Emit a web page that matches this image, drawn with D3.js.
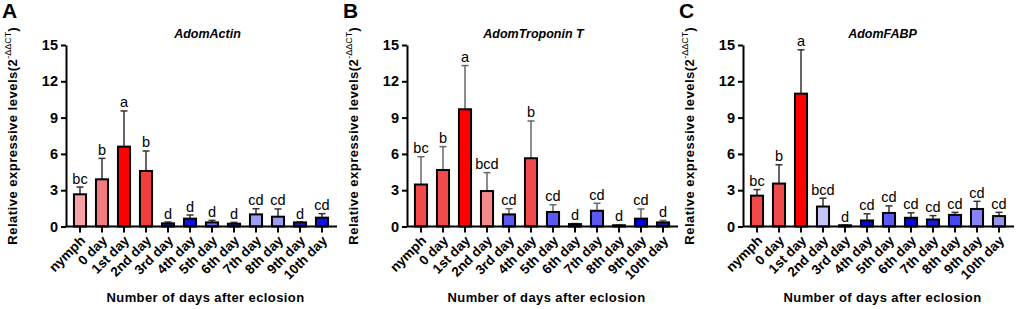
<!DOCTYPE html>
<html>
<head>
    <meta charset="utf-8">
    <title>Relative expression</title>
    <script src="https://cdn.jsdelivr.net/npm/d3@7"></script>
    <style>
        body { margin: 0; background: #fff; }
        text { font-family: Arial, 'Liberation Sans', sans-serif; }
    </style>
</head>
<body>
    <svg width="1017" height="309" id="mainsvg"></svg>
    <script>
        // data (mean and upper error)
        const days = ['nymph', '0 day', '1st day', '2nd day', '3rd day', '4th day',
            '5th day', '6th day', '7th day', '8th day', '9th day', '10th day'];
        const panelLetters = ['A', 'B', 'C'];
        const genes = ['AdomActin', 'AdomTroponin T', 'AdomFABP'];

        const actinMean = [2.66, 3.9, 6.6, 4.59, 0.26, 0.65, 0.34, 0.23, 1.0, 0.81, 0.34, 0.73];
        const actinErr = [0.6, 1.73, 2.95, 1.65, 0.11, 0.3, 0.17, 0.11, 0.47, 0.64, 0.03, 0.33];
        const actinSig = ['bc', 'b', 'a', 'b', 'd', 'd', 'd', 'd', 'cd', 'cd', 'd', 'cd'];

        const troponinMean = [3.47, 4.67, 9.69, 2.93, 1.0, 5.64, 1.2, 0.2, 1.3, 0.1, 0.65, 0.34];
        const troponinErr = [2.3, 1.93, 3.61, 1.52, 0.47, 3.08, 0.6, 0.05, 0.62, 0.03, 0.8, 0.16];
        const troponinSig = ['bc', 'b', 'a', 'bcd', 'cd', 'b', 'cd', 'd', 'cd', 'd', 'cd', 'd'];

        const fabpMean = [2.55, 3.55, 10.98, 1.65, 0.1, 0.5, 1.12, 0.72, 0.58, 0.96, 1.45, 0.86];
        const fabpErr = [0.5, 1.55, 3.62, 0.69, 0.02, 0.55, 0.58, 0.41, 0.32, 0.21, 0.63, 0.31];
        const fabpSig = ['bc', 'b', 'a', 'bcd', 'd', 'cd', 'cd', 'cd', 'cd', 'cd', 'cd', 'cd'];

        const yTicks = [0, 3, 6, 9, 12, 15];

        // bar fills (style only)
        const actinFill = ['#f7a1a6', '#f27b80', '#ff0000', '#f23d3d', '#1c1c8c', '#1010e6',
            '#6b6bee', '#2f2fc8', '#9c9cf6', '#9c9cf6', '#1a1ab0', '#1010e6'];
        const troponinFill = ['#f24a4a', '#f24a4a', '#ff0000', '#f58a8a', '#5a5af2', '#f24a4a',
            '#5a5af2', '#2222aa', '#5a5af2', '#2222aa', '#0000dd', '#1a1a99'];
        const fabpFill = ['#f24a4a', '#f24a4a', '#ff0000', '#c4c4f8', '#2222aa', '#0505d8',
            '#5a5af2', '#0505e0', '#1818e0', '#4848f0', '#8484f6', '#9494f0'];

        const panels = [
            { mean: actinMean, err: actinErr, sig: actinSig, fill: actinFill, left: 0, errColor: '#333', titleDx: 6 },
            { mean: troponinMean, err: troponinErr, sig: troponinSig, fill: troponinFill, left: 341, errColor: '#666', titleDx: -9 },
            { mean: fabpMean, err: fabpErr, sig: fabpSig, fill: fabpFill, left: 677, errColor: '#333', titleDx: 4 }
        ];

        const svg = d3.select('#mainsvg');
        const axisOff = 66;      // y axis position inside a panel
        const plotW = 271;
        const y0 = 226.5, y1 = 45;
        const font = "Arial, 'Liberation Sans', sans-serif";

        const yScale = d3.scaleLinear().domain([0, 15]).range([y0, y1]);

        panels.forEach((p, k) => {
            const g = svg.append('g').attr('transform', `translate(${p.left},0)`);
            const ax = axisOff;

            const xScale = d3.scaleBand()
                .domain(days)
                .range([ax + 3, ax + 267])
                .paddingInner(0.45)
                .paddingOuter(0.225);

            const rows = days.map((d, i) => ({ day: d, mean: p.mean[i], err: p.err[i], sig: p.sig[i], fill: p.fill[i] }));
            const cx = d => xScale(d.day) + xScale.bandwidth() / 2;

            // error bars (upper only)
            const eb = g.append('g');
            eb.selectAll('line.whisker').data(rows).join('line')
                .attr('class', 'whisker')
                .attr('x1', cx).attr('x2', cx)
                .attr('y1', d => yScale(d.mean))
                .attr('y2', d => yScale(d.mean + d.err))
                .attr('stroke', p.errColor).attr('stroke-width', 1.5);
            eb.selectAll('line.cap').data(rows).join('line')
                .attr('class', 'cap')
                .attr('x1', d => cx(d) - 3.5)
                .attr('x2', d => cx(d) + 3.5)
                .attr('y1', d => yScale(d.mean + d.err))
                .attr('y2', d => yScale(d.mean + d.err))
                .attr('stroke', p.errColor).attr('stroke-width', 1.5);

            // bars
            g.selectAll('rect.bar').data(rows).join('rect')
                .attr('class', 'bar')
                .attr('x', d => xScale(d.day))
                .attr('y', d => yScale(d.mean))
                .attr('width', xScale.bandwidth())
                .attr('height', d => y0 - yScale(d.mean))
                .attr('fill', d => d.fill)
                .attr('stroke', '#000').attr('stroke-width', 2);

            // significance letters
            g.selectAll('text.sig').data(rows).join('text')
                .attr('class', 'sig')
                .attr('x', cx)
                .attr('y', d => yScale(d.mean + d.err) - 3.5)
                .attr('text-anchor', 'middle')
                .attr('font-size', '14.5px')
                .text(d => d.sig);

            // y axis
            const yAxis = d3.axisLeft(yScale).tickValues(yTicks).tickSize(5).tickSizeOuter(0).tickPadding(3);
            const yg = g.append('g').attr('transform', `translate(${ax},0)`).call(yAxis);
            yg.selectAll('path, line').attr('stroke', '#000').attr('stroke-width', 2);
            yg.selectAll('text').attr('font-size', '14.5px').attr('font-weight', 'bold')
                .attr('font-family', font).attr('fill', '#000');

            // x axis
            const xAxis = d3.axisBottom(xScale).tickSize(6).tickSizeOuter(0);
            const xg = g.append('g').attr('transform', `translate(0,${y0})`).call(xAxis);
            xg.select('.domain').remove();
            xg.append('line').attr('x1', ax).attr('x2', ax + plotW).attr('y1', 0).attr('y2', 0)
                .attr('stroke', '#000').attr('stroke-width', 2);
            xg.selectAll('.tick line').attr('stroke', '#000').attr('stroke-width', 2);
            xg.selectAll('.tick text')
                .attr('font-size', '13.5px').attr('font-weight', 'bold')
                .attr('font-family', font).attr('fill', '#000')
                .attr('text-anchor', 'end')
                .attr('dy', null)
                .attr('y', 0)
                .attr('transform', 'translate(6,15) rotate(-45)');

            // x title
            g.append('text')
                .attr('x', ax + plotW / 2 + 4).attr('y', 302)
                .attr('text-anchor', 'middle')
                .attr('font-size', '13px').attr('font-weight', 'bold')
                .attr('letter-spacing', '0.4px')
                .text('Number of days after eclosion');

            // y title with superscript
            const yt = g.append('text')
                .attr('transform', `translate(17,${(y0 + y1) / 2}) rotate(-90)`)
                .attr('text-anchor', 'middle')
                .attr('font-size', '13px').attr('font-weight', 'bold')
                .attr('letter-spacing', '0.5px');
            yt.append('tspan').text('Relative expressive levels(2');
            yt.append('tspan').attr('dy', -6).attr('font-size', '9px').attr('font-weight', 'normal')
                .attr('letter-spacing', '0px').text('-ΔΔCT');
            yt.append('tspan').attr('dy', 6).text(')');

            // gene title
            g.append('text')
                .attr('x', ax + plotW / 2 + p.titleDx).attr('y', 38)
                .attr('text-anchor', 'middle')
                .attr('font-size', '12.5px').attr('font-weight', 'bold').attr('font-style', 'italic')
                .text(genes[k]);

            // panel letter
            g.append('text')
                .attr('x', 2).attr('y', 18)
                .attr('font-size', '21px').attr('font-weight', 'bold')
                .text(panelLetters[k]);
        });
    </script>
</body>
</html>
